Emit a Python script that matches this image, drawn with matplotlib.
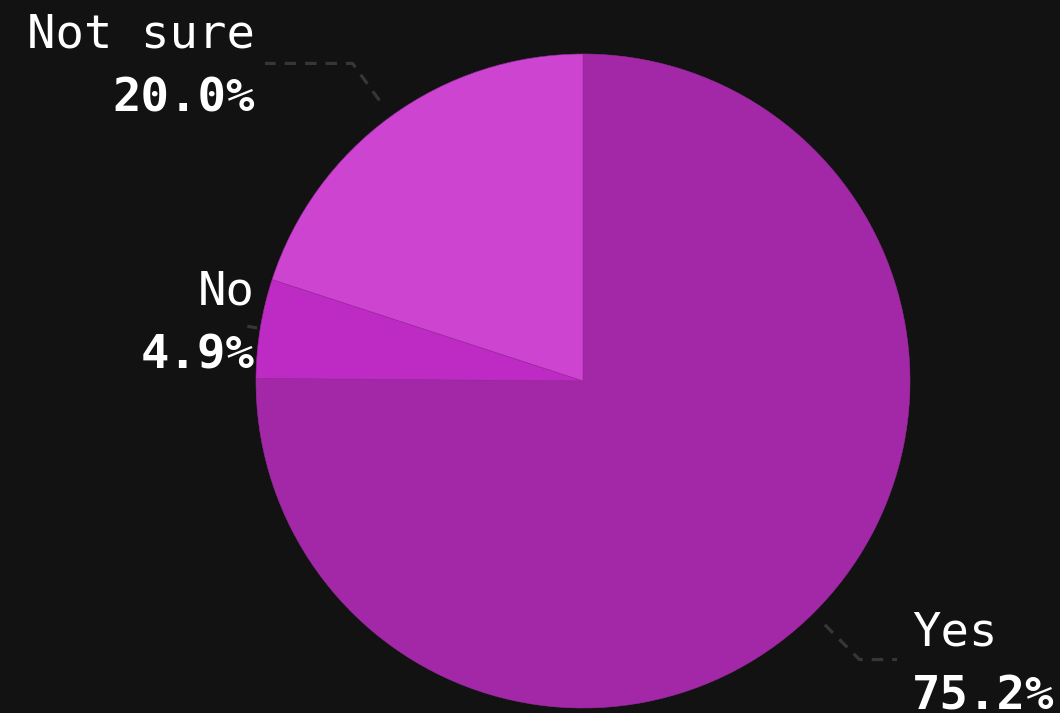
import numpy as np
import matplotlib

matplotlib.use("Agg")
import matplotlib.pyplot as plt

labels = ["Yes", "No", "Not sure"]
shares = [75.2, 4.9, 20.0]
colors = ["#a328a8", "#be2ac4", "#cc44d0"]

BG = "#121212"
LINE = "#35353a"
W, H = 1060, 713
CX, CY, R = 583, H - 381, 327

fig = plt.figure(figsize=(W / 100, H / 100), dpi=100, facecolor=BG)
ax = fig.add_axes([0, 0, 1, 1])
ax.set_facecolor(BG)

wedges, _ = ax.pie(
    shares,
    colors=colors,
    startangle=90,
    counterclock=False,
    radius=R,
    center=(CX, CY),
    frame=True,
    wedgeprops=dict(edgecolor="#9a2aa0", linewidth=0.4),
)
ax.set_xlim(0, W)
ax.set_ylim(0, H)
ax.set_aspect("equal")
ax.axis("off")

# label placement: (inner radius, elbow radius, end x, text x, side, text dy)
layout = {
    "Yes": (1.05, 1.2, 897, 912, "left", -5),
    "No": (1.01, 1.04, None, 255, "right", 2),
    "Not sure": (1.06, 1.2, 265, 255, "right", -4),
}
font = ["DejaVu Sans Mono"]

for w, name, pct in zip(wedges, labels, shares):
    mid = np.deg2rad((w.theta1 + w.theta2) / 2)
    r_in, r_el, x_end, x_txt, side, dy = layout[name]
    ux, uy = np.cos(mid), np.sin(mid)
    xs = [CX + R * r_in * ux, CX + R * r_el * ux]
    ys = [CY + R * r_in * uy, CY + R * r_el * uy]
    if x_end is not None:
        xs.append(x_end)
        ys.append(ys[-1])
    ax.plot(xs, ys, color=LINE, lw=2.3, linestyle=(0, (3.6, 2.8)),
            solid_capstyle="butt", zorder=1)

    y_mid = ys[-1] + dy
    ax.text(x_txt, y_mid + 32, name, color="white", fontsize=34,
            family=font, ha=side, va="center")
    ax.text(x_txt, y_mid - 32, f"{pct:.1f}%", color="white", fontsize=34,
            family=font, fontweight="bold", ha=side, va="center")

fig.savefig("out.png", dpi=100, facecolor=BG)
